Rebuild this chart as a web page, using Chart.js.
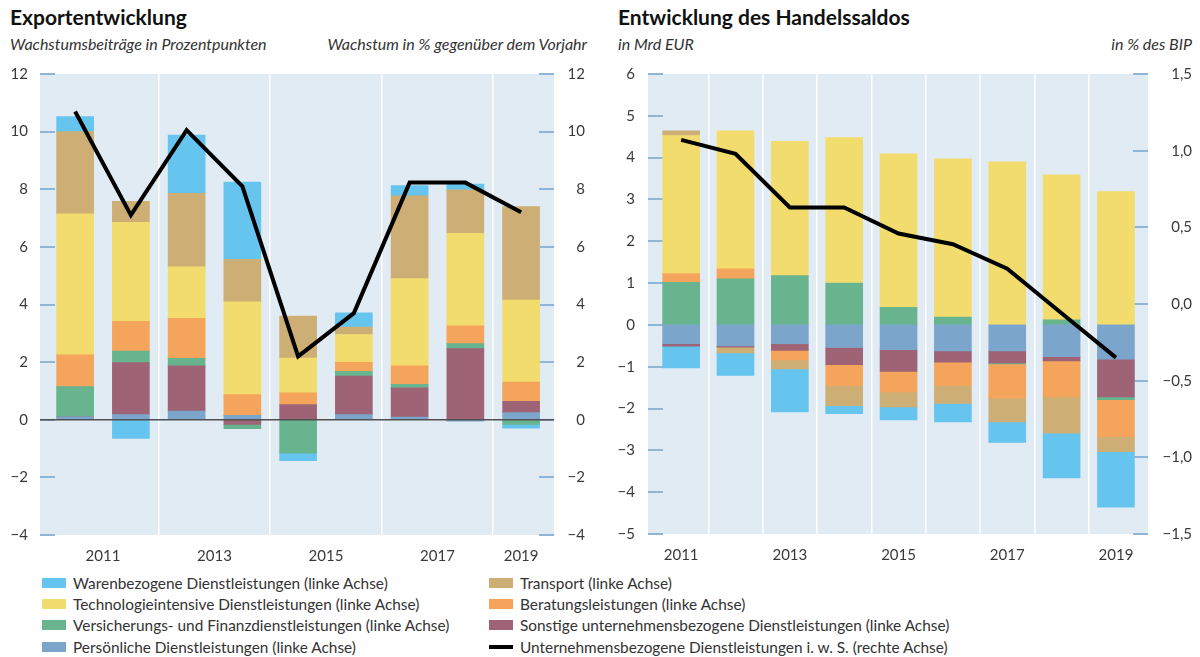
<!DOCTYPE html>
<html lang="de">
<head>
<meta charset="utf-8">
<script src="https://cdn.jsdelivr.net/npm/chart.js@4/dist/chart.umd.min.js"></script>
<style>
  body { margin: 0; width: 1200px; height: 657px; background: #fff; font-family: Lato, 'Open Sans', sans-serif; color: #333; position: relative; overflow: hidden; }
  .title { position: absolute; top: 4px; font-size: 21px; font-weight: 700; color: #111; }
  .sub { position: absolute; top: 34px; font-size: 16px; font-style: italic; color: #333; }
  .box { position: absolute; width: 600px; height: 518px; }
  #legend { position: absolute; top: 572px; left: 42px; width: 1150px; display: grid; grid-template-columns: 447px 1fr; grid-auto-flow: column; grid-template-rows: repeat(4, 21.3px); font-size: 15.4px; color: #333; }
  .item { display: flex; align-items: center; }
  .sw { width: 24px; height: 10px; margin-right: 7px; flex: none; }
  .sw.line { height: 4px; background: #000; }
</style>
</head>
<body>
<div class="title" style="left:10px">Exportentwicklung</div>
<div class="sub" style="left:10px">Wachstumsbeiträge in Prozentpunkten</div>
<div class="sub" style="right:613px">Wachstum in % gegenüber dem Vorjahr</div>
<div class="title" style="left:618px">Entwicklung des Handelssaldos</div>
<div class="sub" style="left:618px">in Mrd EUR</div>
<div class="sub" style="right:8px">in % des BIP</div>
<div class="box" style="left:0; top:53px"><canvas id="chart-export"></canvas></div>
<div class="box" style="left:600px; top:52px"><canvas id="chart-saldo"></canvas></div>
<div id="legend"></div>
<script>
const years = [2011, 2012, 2013, 2014, 2015, 2016, 2017, 2018, 2019];

// Exportentwicklung, Wachstumsbeiträge in Prozentpunkten
const expPersoenlich = [0.1, 0.18, 0.3, 0.15, 0, 0.18, 0.09, -0.05, 0.25];
const expSonstige = [0, 1.8, 1.57, -0.16, 0.53, 1.34, 1.02, 2.47, 0.39];
const expVersicherung = [1.05, 0.4, 0.26, -0.15, -1.16, 0.16, 0.12, 0.17, -0.16];
const expBeratung = [1.1, 1.04, 1.39, 0.72, 0.4, 0.31, 0.64, 0.62, 0.67];
const expTechnologie = [4.9, 3.43, 1.79, 3.22, 1.21, 0.97, 3.03, 3.21, 2.84];
const expTransport = [2.85, 0.73, 2.55, 1.48, 1.46, 0.26, 2.87, 1.51, 3.25];
const expWaren = [0.52, -0.65, 2.02, 2.68, -0.26, 0.49, 0.36, 0.2, -0.13];
const expGesamt = [10.7, 7.1, 10.05, 8.1, 2.2, 3.7, 8.23, 8.23, 7.2];

// Handelssaldo in Mrd EUR
const salPersoenlich = [-0.45, -0.5, -0.45, -0.54, -0.59, -0.62, -0.62, -0.76, -0.82];
const salSonstige = [-0.06, -0.03, -0.16, -0.41, -0.52, -0.27, -0.29, -0.1, -0.9];
const salVersicherung = [1.02, 1.1, 1.18, 1.0, 0.42, 0.19, -0.02, 0.12, -0.07];
const salBeratung = [0.21, 0.24, -0.23, -0.5, -0.49, -0.56, -0.82, -0.86, -0.88];
const salTechnologie = [3.3, 3.3, 3.21, 3.48, 3.67, 3.78, 3.9, 3.47, 3.19];
const salTransport = [0.11, -0.14, -0.21, -0.48, -0.36, -0.43, -0.57, -0.87, -0.36];
const salWaren = [-0.52, -0.54, -1.03, -0.19, -0.31, -0.44, -0.49, -1.07, -1.33];
const salGesamtBip = [1.07, 0.98, 0.63, 0.63, 0.46, 0.39, 0.23, -0.06, -0.35];

// x-Achse: Beschriftungen und weiße Trennlinien
const expTickLabels = ['2011', '2013', '2015', '2017', '2019'];
const expTickPos = [2011.5, 2013.5, 2015.5, 2017.5, 2019];
const expSeparators = [2012.5, 2014.5, 2016.5, 2018.5];
const salTickLabels = ['2011', '2013', '2015', '2017', '2019'];
const salTickPos = [2011, 2013, 2015, 2017, 2019];
const salSeparators = [2011.5, 2012.5, 2013.5, 2014.5, 2015.5, 2016.5, 2017.5, 2018.5];

const series = [
  { key: 'Persoenlich', label: 'Persönliche Dienstleistungen (linke Achse)', color: '#7ba5ca' },
  { key: 'Sonstige', label: 'Sonstige unternehmensbezogene Dienstleistungen (linke Achse)', color: '#9e6475' },
  { key: 'Versicherung', label: 'Versicherungs- und Finanzdienstleistungen (linke Achse)', color: '#67b48f' },
  { key: 'Beratung', label: 'Beratungsleistungen (linke Achse)', color: '#f4a45b' },
  { key: 'Technologie', label: 'Technologieintensive Dienstleistungen (linke Achse)', color: '#f2dc6e' },
  { key: 'Transport', label: 'Transport (linke Achse)', color: '#cdae74' },
  { key: 'Waren', label: 'Warenbezogene Dienstleistungen (linke Achse)', color: '#66c5ef' }
];
const lineLabel = 'Unternehmensbezogene Dienstleistungen i. w. S. (rechte Achse)';
const legendOrder = ['Waren', 'Technologie', 'Versicherung', 'Persoenlich', 'Transport', 'Beratung', 'Sonstige', 'line'];

const expData = { Persoenlich: expPersoenlich, Sonstige: expSonstige, Versicherung: expVersicherung, Beratung: expBeratung, Technologie: expTechnologie, Transport: expTransport, Waren: expWaren };
const salData = { Persoenlich: salPersoenlich, Sonstige: salSonstige, Versicherung: salVersicherung, Beratung: salBeratung, Technologie: salTechnologie, Transport: salTransport, Waren: salWaren };

const FONT = { family: 'Lato, "Open Sans", sans-serif', size: 15 };
const TEXT = '#3a3a3a';

function minus(str) {
  return String(str).replace('-', '\u2212');
}

function points(values) {
  return values.map((v, i) => ({ x: years[i], y: v }));
}

// Hintergrund, kurze Skalenstriche innen, optional Nulllinie
const panelPlugin = {
  id: 'panel',
  beforeDraw(chart) {
    const { ctx, chartArea: a } = chart;
    ctx.save();
    ctx.fillStyle = '#e1ebf4';
    ctx.fillRect(a.left, a.top, a.right - a.left, a.bottom - a.top);
    ctx.restore();
  },
  beforeDatasetsDraw(chart) {
    const { ctx, chartArea: a } = chart;
    ctx.save();
    ctx.strokeStyle = '#8fb6d9';
    ctx.lineWidth = 2;
    ['y', 'y2'].forEach((id) => {
      const scale = chart.scales[id];
      scale.ticks.forEach((t) => {
        const py = Math.round(scale.getPixelForValue(t.value));
        ctx.beginPath();
        if (id === 'y') { ctx.moveTo(a.left, py); ctx.lineTo(a.left + 15, py); }
        else { ctx.moveTo(a.right - 15, py); ctx.lineTo(a.right, py); }
        ctx.stroke();
      });
    });
    ctx.restore();
  },
  afterDatasetsDraw(chart, args, opts) {
    if (!opts.zero) return;
    const { ctx, chartArea: a } = chart;
    const py = chart.scales.y.getPixelForValue(0);
    ctx.save();
    ctx.strokeStyle = '#505050';
    ctx.lineWidth = 1.5;
    ctx.beginPath();
    ctx.moveTo(a.left, py);
    ctx.lineTo(a.right, py);
    ctx.stroke();
    ctx.restore();
  }
};

function buildChart(canvasId, cfg) {
  const datasets = [{
    type: 'line',
    label: lineLabel,
    data: points(cfg.line),
    yAxisID: 'y2',
    borderColor: '#000',
    borderWidth: 4,
    pointRadius: 0,
    borderJoinStyle: 'miter',
    tension: 0
  }];
  series.forEach((s) => {
    datasets.push({
      type: 'bar',
      label: s.label,
      data: points(cfg.bars[s.key]),
      backgroundColor: s.color,
      barThickness: 37,
      yAxisID: 'y'
    });
  });

  const allTicks = [...cfg.separators, ...cfg.tickPos];

  return new Chart(document.getElementById(canvasId), {
    data: { datasets },
    plugins: [panelPlugin],
    options: {
      responsive: true,
      maintainAspectRatio: false,
      animation: false,
      layout: { padding: { top: 0, left: 0, bottom: 0, right: cfg.padRight } },
      plugins: {
        legend: { display: false },
        tooltip: { enabled: false },
        panel: { zero: cfg.zero }
      },
      scales: {
        x: {
          type: 'linear',
          min: cfg.xMin,
          max: cfg.xMax,
          offset: false,
          stacked: true,
          border: { display: false },
          grid: {
            offset: false,
            drawTicks: false,
            lineWidth: 1.5,
            color: (c) => (c.tick && cfg.separators.includes(c.tick.value) ? '#ffffff' : 'rgba(0,0,0,0)')
          },
          afterBuildTicks: (scale) => { scale.ticks = allTicks.map((v) => ({ value: v })); },
          afterFit: (scale) => { scale.height = 36; },
          ticks: {
            autoSkip: false,
            maxRotation: 0,
            padding: 12,
            color: TEXT,
            font: FONT,
            callback: (v) => {
              const i = cfg.tickPos.indexOf(v);
              return i >= 0 ? cfg.tickLabels[i] : '';
            }
          }
        },
        y: {
          position: 'left',
          min: cfg.yMin,
          max: cfg.yMax,
          stacked: true,
          border: { display: false },
          grid: { display: false, drawTicks: false },
          afterFit: (scale) => { scale.width = cfg.leftW; },
          ticks: { stepSize: cfg.yStep, padding: cfg.tickPad, color: TEXT, font: FONT, callback: (v) => minus(v) }
        },
        y2: {
          position: 'right',
          min: cfg.y2Min,
          max: cfg.y2Max,
          border: { display: false },
          grid: { display: false, drawTicks: false },
          afterFit: (scale) => { scale.width = cfg.rightW; },
          ticks: { stepSize: cfg.y2Step, padding: cfg.tickPad, crossAlign: 'far', color: TEXT, font: FONT, callback: cfg.y2Format }
        }
      }
    }
  });
}

buildChart('chart-export', {
  bars: expData,
  line: expGesamt,
  zero: true,
  xMin: 2010.37, xMax: 2019.59,
  tickPos: expTickPos, tickLabels: expTickLabels, separators: expSeparators,
  yMin: -4, yMax: 12, yStep: 2,
  y2Min: -4, y2Max: 12, y2Step: 2,
  y2Format: (v) => minus(v),
  leftW: 40, rightW: 31, padRight: 15, tickPad: 12
});

buildChart('chart-saldo', {
  bars: salData,
  line: salGesamtBip,
  zero: false,
  xMin: 2010.39, xMax: 2019.59,
  tickPos: salTickPos, tickLabels: salTickLabels, separators: salSeparators,
  yMin: -5, yMax: 6, yStep: 1,
  y2Min: -1.5, y2Max: 1.5, y2Step: 0.5,
  y2Format: (v) => minus(Number(v).toFixed(1).replace('.', ',')),
  leftW: 48, rightW: 44, padRight: 8, tickPad: 13
});

// Gemeinsame Legende unter beiden Grafiken
const legend = document.getElementById('legend');
legendOrder.forEach((key) => {
  const item = document.createElement('div');
  item.className = 'item';
  if (key === 'line') {
    item.innerHTML = `<span class="sw line"></span><span>${lineLabel}</span>`;
  } else {
    const s = series.find((x) => x.key === key);
    item.innerHTML = `<span class="sw" style="background:${s.color}"></span><span>${s.label}</span>`;
  }
  legend.appendChild(item);
});
</script>
</body>
</html>
